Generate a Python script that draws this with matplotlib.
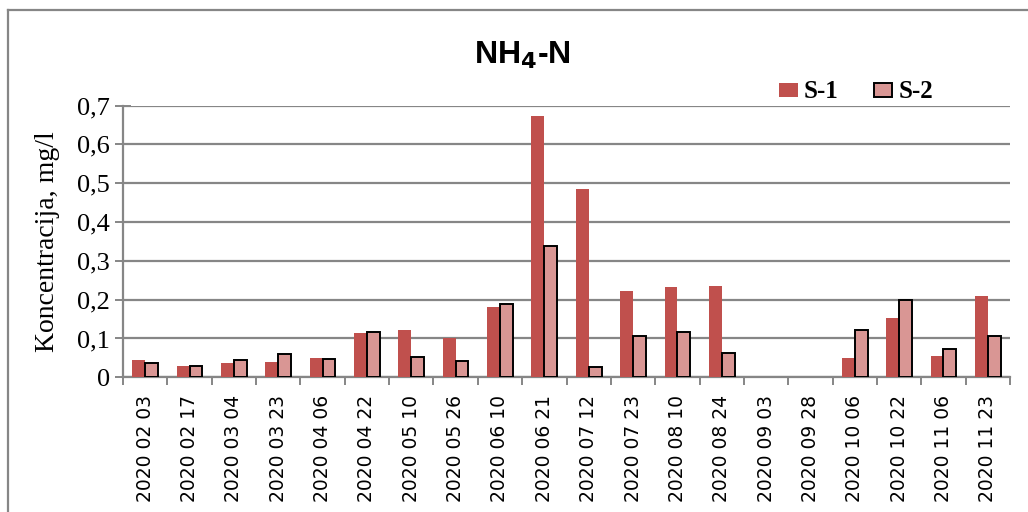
import numpy as np
import matplotlib
matplotlib.use("Agg")
import matplotlib.pyplot as plt
from matplotlib.patches import Rectangle
from matplotlib.lines import Line2D
from matplotlib.ticker import FuncFormatter

# sampling dates and NH4-N concentrations (mg/l) at the two stations
dates = ["2020 02 03", "2020 02 17", "2020 03 04", "2020 03 23", "2020 04 06",
         "2020 04 22", "2020 05 10", "2020 05 26", "2020 06 10", "2020 06 21",
         "2020 07 12", "2020 07 23", "2020 08 10", "2020 08 24", "2020 09 03",
         "2020 09 28", "2020 10 06", "2020 10 22", "2020 11 06", "2020 11 23"]
s1 = [0.045, 0.028, 0.036, 0.039, 0.050, 0.115, 0.122, 0.101, 0.181, 0.673,
      0.486, 0.222, 0.232, 0.235, np.nan, np.nan, 0.050, 0.153, 0.054, 0.210]
s2 = [0.036, 0.029, 0.045, 0.061, 0.048, 0.116, 0.053, 0.043, 0.190, 0.339,
      0.027, 0.106, 0.116, 0.062, np.nan, np.nan, 0.121, 0.199, 0.074, 0.107]
y_ticks = [0, 0.1, 0.2, 0.3, 0.4, 0.5, 0.6, 0.7]

c1 = "#C0504D"
c2 = "#D99694"
grey = "#868686"
serif = ["Liberation Serif", "DejaVu Serif"]

fig = plt.figure(figsize=(10.28, 5.12), dpi=100)
ax = fig.add_axes([123 / 1028, 1 - 377.3 / 512, 887 / 1028, 271.8 / 512])

x = np.arange(len(dates))
w = 0.29
ax.bar(x - w / 2, s1, w, color=c1, linewidth=0, zorder=3)
ax.bar(x + w / 2, s2, w, color=c2, edgecolor="black", linewidth=1.4, zorder=3)

ax.set_xlim(-0.5, len(dates) - 0.5)
ax.set_ylim(0, 0.7)
ax.set_yticks(y_ticks)
ax.yaxis.set_major_formatter(FuncFormatter(
    lambda v, p: "0" if v == 0 else ("%.1f" % v).replace(".", ",")))
ax.yaxis.grid(True, color=grey, linewidth=1.6, zorder=0)
ax.set_axisbelow(True)

# category boundaries get the tick marks, the centres carry the labels
ax.set_xticks(np.arange(-0.5, len(dates), 1.0))
ax.set_xticklabels([])
ax.set_xticks(x, minor=True)
ax.set_xticklabels(dates, minor=True, rotation=90, fontsize=13.5,
                   family="DejaVu Sans")
ax.tick_params(axis="x", which="major", length=6, width=1.4, color=grey,
               direction="out")
ax.tick_params(axis="x", which="minor", length=0, pad=13)
ax.tick_params(axis="y", length=11, width=1.4, color=grey, direction="inout",
               pad=4, labelsize=19)
for lab in ax.get_yticklabels():
    lab.set_family(serif)

for side in ("top", "right"):
    ax.spines[side].set_visible(False)
for side in ("left", "bottom"):
    ax.spines[side].set_color(grey)
    ax.spines[side].set_linewidth(1.6)

ax.set_ylabel("Koncentracija, mg/l", family=serif, fontsize=20, labelpad=12)

fig.text(522 / 1028, 1 - 55 / 512, r"NH$_\mathbf{4}$-N", ha="center",
         va="center", fontsize=23, fontweight="bold",
         family=["Liberation Sans", "DejaVu Sans"])

handles = [Rectangle((0, 0), 1, 1, facecolor=c1, linewidth=0),
           Rectangle((0, 0), 1, 1, facecolor=c2, edgecolor="black",
                     linewidth=1.4)]
fig.legend(handles, ["S-1", "S-2"], loc="center",
           bbox_to_anchor=(856 / 1028, 1 - 92 / 512), ncol=2, frameon=False,
           handlelength=0.75, handleheight=0.5, handletextpad=0.25,
           columnspacing=1.4,
           prop={"family": serif, "weight": "bold", "size": 18})

# outer chart frame
fig.add_artist(Line2D([8 / 1028, 8 / 1028], [0, 1 - 10 / 512],
                      transform=fig.transFigure, color=grey, linewidth=1.6))
fig.add_artist(Line2D([8 / 1028, 1], [1 - 10 / 512, 1 - 10 / 512],
                      transform=fig.transFigure, color=grey, linewidth=1.6))

fig.savefig("out.png", dpi=100)
